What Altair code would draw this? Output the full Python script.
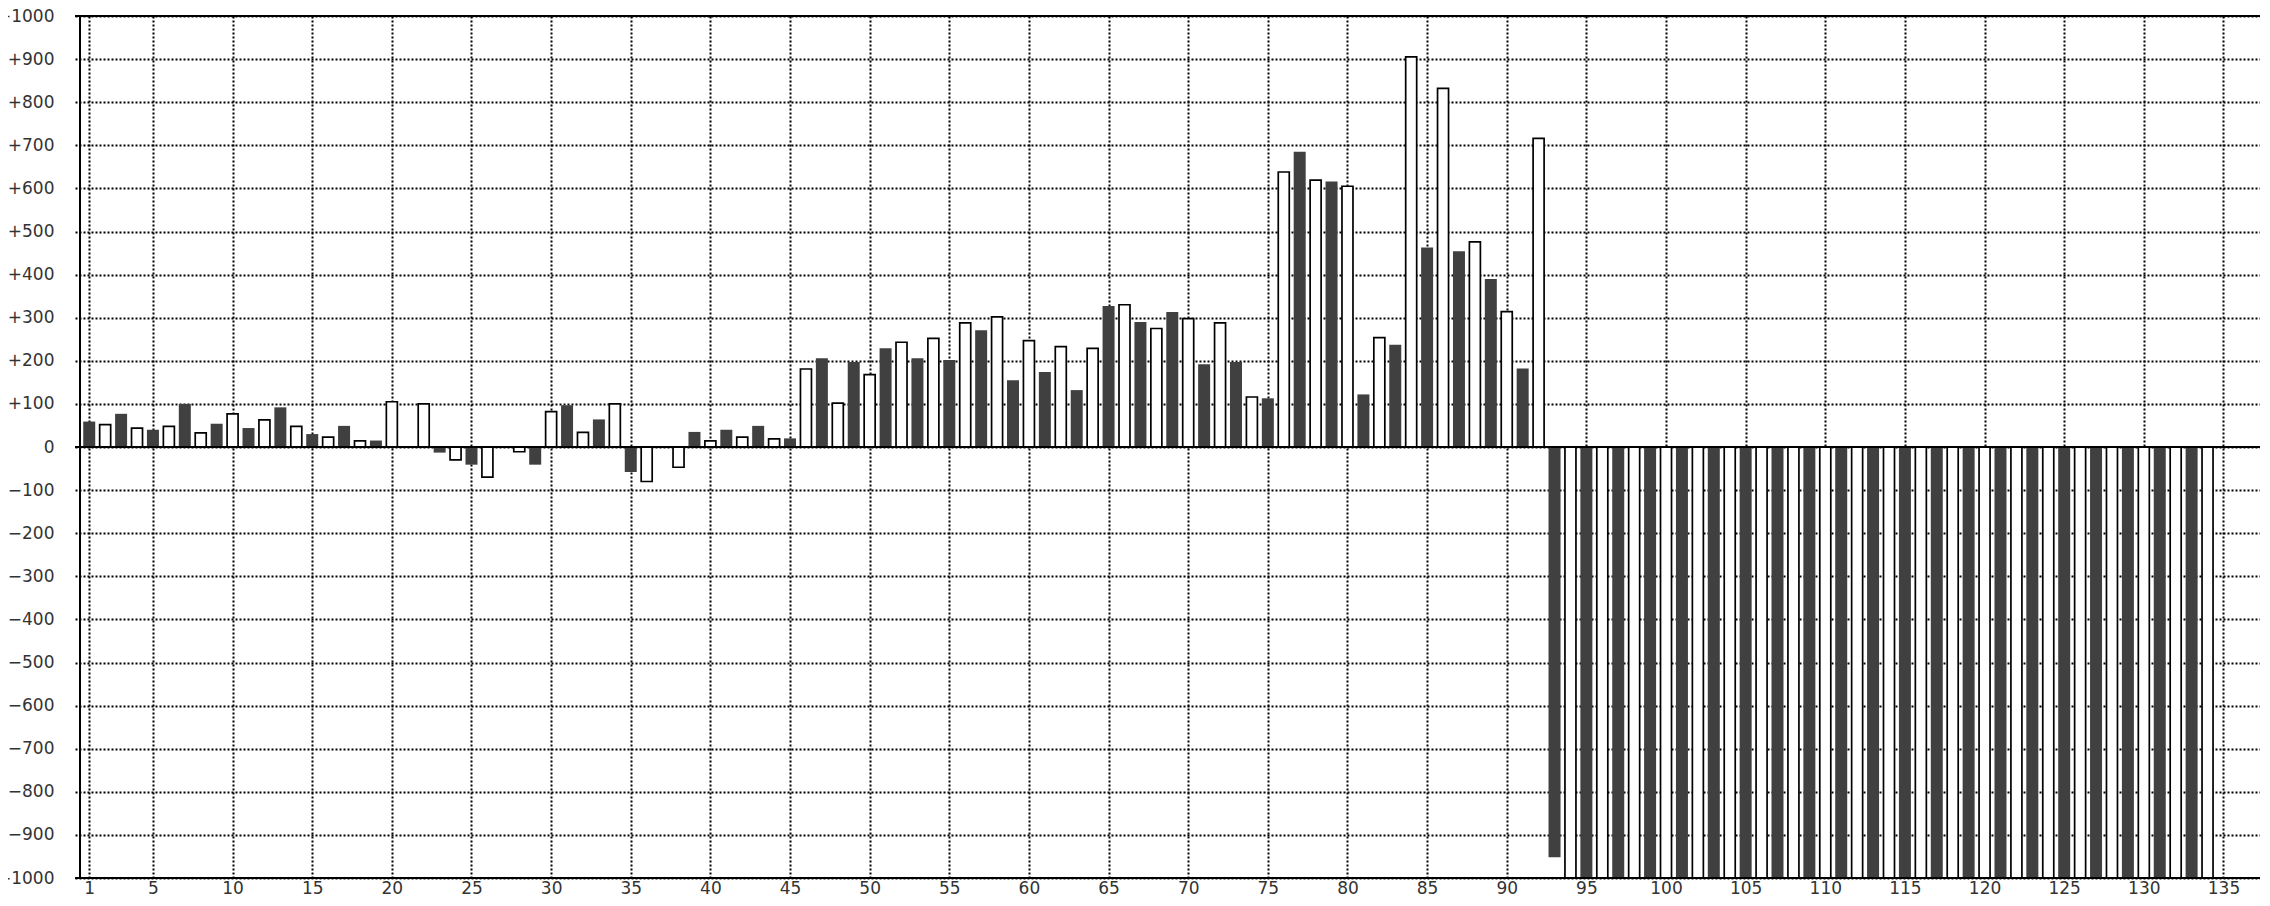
import altair as alt
import pandas as pd

# bar index (x) and value (y)
positions = list(range(1, 135))
values = [
    59, 52, 77, 44, 40, 48, 100, 33, 54, 77,
    44, 63, 92, 48, 30, 23, 49, 14, 15, 105,
    0, 100, -13, -30, -41, -70, 0, -11, -41, 82,
    97, 34, 64, 100, -58, -80, 0, -47, 35, 14,
    40, 23, 49, 19, 20, 181, 206, 102, 197, 168,
    229, 243, 206, 252, 202, 288, 271, 302, 155, 247,
    174, 233, 132, 229, 327, 330, 290, 275, 313, 298,
    192, 288, 197, 116, 113, 638, 685, 619, 616, 605,
    122, 254, 237, 905, 463, 832, 454, 476, 390, 314,
    182, 716, -952, -1000, -1000, -1000, -1000, -1000, -1000, -1000,
    -1000, -1000, -1000, -1000, -1000, -1000, -1000, -1000, -1000, -1000,
    -1000, -1000, -1000, -1000, -1000, -1000, -1000, -1000, -1000, -1000,
    -1000, -1000, -1000, -1000, -1000, -1000, -1000, -1000, -1000, -1000,
    -1000, -1000, -1000, -1000,
]
x_ticks = [1, 5, 10, 15, 20, 25, 30, 35, 40, 45, 50, 55, 60, 65, 70, 75, 80, 85,
           90, 95, 100, 105, 110, 115, 120, 125, 130, 135]
y_ticks = [-1000, -900, -800, -700, -600, -500, -400, -300, -200, -100, 0,
           100, 200, 300, 400, 500, 600, 700, 800, 900, 1000]
x_domain = [0.42, 136.98]
y_domain = [-1000, 1000]
frame_h = [1000, 0, -1000]
frame_v = [0.42]

df = pd.DataFrame({"x": positions, "v": values})
frame_y = pd.DataFrame({"y": frame_h})
frame_x = pd.DataFrame({"x": frame_v})

FONT = "DejaVu Sans"

x_scale = alt.Scale(domain=x_domain, nice=False, zero=False)
y_scale = alt.Scale(domain=y_domain, nice=False)

x_enc = alt.X(
    "x:Q",
    scale=x_scale,
    axis=alt.Axis(
        values=x_ticks, title=None, grid=True, gridColor="black", gridDash=[2, 2],
        gridWidth=2, gridOpacity=1, ticks=False, domain=False, labelFlush=False,
        labelOverlap=False, labelFont=FONT, labelFontSize=17, labelColor="#333",
        labelPadding=2,
    ),
)
y_enc = alt.Y(
    "v:Q",
    scale=y_scale,
    axis=alt.Axis(
        values=y_ticks, title=None, grid=True, gridColor="black", gridDash=[2, 2],
        gridWidth=2, gridOpacity=1, ticks=False, domain=False, labelFlush=False,
        labelOverlap=False, labelFont=FONT, labelFontSize=17, labelColor="#333",
        labelPadding=21,
        labelExpr="datum.value > 0 ? '+' + datum.value : (datum.value < 0 ? '\u2212' + abs(datum.value) : '0')",
    ),
)

base = alt.Chart(df)

dark = base.transform_filter("datum.x % 2 == 1").mark_bar(
    size=12, color="#404040", clip=True
).encode(x=x_enc, y=y_enc, y2=alt.datum(0))

white = base.transform_filter("datum.x % 2 == 0").mark_bar(
    size=11, fill="white", stroke="black", strokeWidth=1.7, clip=True
).encode(x="x:Q", y="v:Q", y2=alt.datum(0))

hrules = alt.Chart(frame_y).mark_rule(color="black", strokeWidth=2).encode(y="y:Q")
vrules = alt.Chart(frame_x).mark_rule(color="black", strokeWidth=2).encode(x="x:Q")

chart = alt.layer(dark, white, hrules, vrules).properties(
    width=2185,
    height=862,
    autosize=alt.AutoSizeParams(type="none"),
    padding={"left": 67, "top": 8, "right": 0, "bottom": 20},
    background="white",
).configure_view(stroke=None)

chart.save("out.html", embed_options={"renderer": "svg", "actions": False})
